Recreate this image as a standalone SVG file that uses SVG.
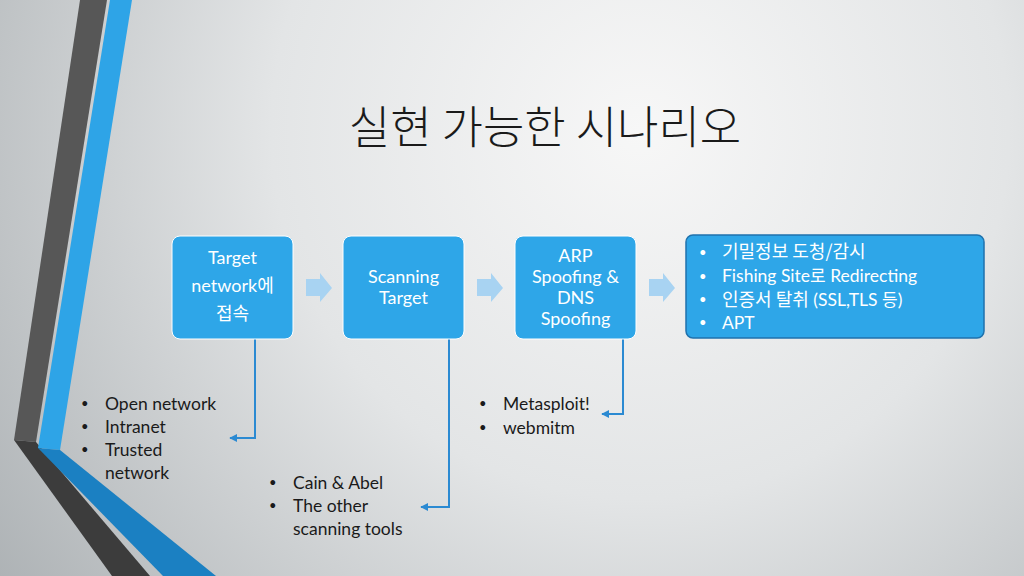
<svg xmlns="http://www.w3.org/2000/svg" width="1024" height="576" viewBox="0 0 1024 576">
  <defs>
    <radialGradient id="bg" cx="640" cy="130" r="820" gradientUnits="userSpaceOnUse">
      <stop offset="0" stop-color="#f7f7f7"/>
      <stop offset="0.45" stop-color="#e3e5e6"/>
      <stop offset="1" stop-color="#a9aeb1"/>
    </radialGradient>
    <marker id="ah" viewBox="0 0 10 10" refX="9" refY="5" markerWidth="4" markerHeight="4" orient="auto">
      <path d="M0,0 L10,5 L0,10 Z" fill="#2b8ad2"/>
    </marker>
    <style>
      .box { fill: #2ea6e8; stroke: #ffffff; stroke-width: 1; }
      .box4 { fill: #2ea6e8; stroke: #1f72ad; stroke-width: 1.5; }
      .btxt { font-family: "Lato", "Noto Sans CJK KR", sans-serif; font-size: 18px; fill: #ffffff; text-anchor: middle; }
      .ltxt { font-family: "Lato", "Noto Sans CJK KR", sans-serif; font-size: 17.5px; fill: #ffffff; }
      .kr { font-family: "Noto Sans CJK KR", sans-serif; font-size: 18px; }
      .kr2 { font-family: "Noto Sans CJK KR", sans-serif; font-size: 17px; }
      .dtxt { font-family: "Lato", "Noto Sans CJK KR", sans-serif; font-size: 17.5px; fill: #1a1a1a; }
      .bul { font-family: "Lato", sans-serif; font-size: 13px; }
      .arrow { fill: #a8d3f2; }
      .conn { fill: none; stroke: #2b8ad2; stroke-width: 2; marker-end: url(#ah); }
      .title { font-family: "Noto Sans CJK KR", sans-serif; font-weight: 300; font-size: 45px; fill: #1a1a1a; text-anchor: middle; }
    </style>
  </defs>

  <rect x="0" y="0" width="1024" height="576" fill="url(#bg)"/>

  <g id="decor">
    <polygon points="80,0 107,0 36,442 14,440" fill="#575757"/>
    <polygon points="14,440 36,442 150,576 112,576" fill="#3c3c3c"/>
    <polygon points="110,0 132,0 60,450 38,448" fill="#2ea4e7"/>
    <polygon points="38,448 60,450 216,576 163,576" fill="#1b80c2"/>
  </g>

  <text id="title" class="title" x="545" y="144">실현 가능한 시나리오</text>

  <g id="flow-arrows">
    <path class="arrow" d="M306,279 H320 V273 L332,288 L320,302 V296 H306 Z"/>
    <path class="arrow" d="M477,279 H491 V273 L503,288 L491,302 V296 H477 Z"/>
    <path class="arrow" d="M649,279 H663 V273 L675,288 L663,302 V296 H649 Z"/>
  </g>

  <g id="connectors">
    <path class="conn" d="M255,339 V438 H230"/>
    <path class="conn" d="M449,339 V507 H421"/>
    <path class="conn" d="M623,339 V414 H602"/>
  </g>

  <g id="node-target">
    <rect class="box" x="172" y="236" width="121" height="103" rx="8"/>
    <text class="btxt" x="232.5" y="264">Target</text>
    <text class="btxt" x="232.5" y="292">network<tspan class="kr">에</tspan></text>
    <text class="btxt" x="232.5" y="320"><tspan class="kr">접속</tspan></text>
  </g>

  <g id="node-scanning">
    <rect class="box" x="343" y="236" width="121" height="103" rx="8"/>
    <text class="btxt" x="403.5" y="283">Scanning</text>
    <text class="btxt" x="403.5" y="304">Target</text>
  </g>

  <g id="node-spoofing">
    <rect class="box" x="515" y="236" width="121" height="103" rx="8"/>
    <text class="btxt" x="575.5" y="262">ARP</text>
    <text class="btxt" x="575.5" y="283">Spoofing &amp;</text>
    <text class="btxt" x="575.5" y="304">DNS</text>
    <text class="btxt" x="575.5" y="325">Spoofing</text>
  </g>

  <g id="node-results">
    <rect class="box4" x="686" y="235" width="298" height="103" rx="7"/>
    <text class="ltxt bul" x="699" y="257">•</text>
    <text class="ltxt" x="722" y="258"><tspan class="kr">기밀정보 도청/감시</tspan></text>
    <text class="ltxt bul" x="699" y="281">•</text>
    <text class="ltxt" x="722" y="282">Fishing Site<tspan class="kr2">로</tspan> Redirecting</text>
    <text class="ltxt bul" x="699" y="304">•</text>
    <text class="ltxt" x="722" y="305.5"><tspan class="kr">인증서 탈취</tspan> (SSL,TLS <tspan class="kr2">등</tspan>)</text>
    <text class="ltxt bul" x="699" y="327">•</text>
    <text class="ltxt" x="722" y="328.5">APT</text>
  </g>

  <g id="list-network">
    <text class="dtxt bul" x="81" y="408">•</text>
    <text class="dtxt" x="105" y="410">Open network</text>
    <text class="dtxt bul" x="81" y="431">•</text>
    <text class="dtxt" x="105" y="433">Intranet</text>
    <text class="dtxt bul" x="81" y="454">•</text>
    <text class="dtxt" x="105" y="456">Trusted</text>
    <text class="dtxt" x="105" y="479">network</text>
  </g>

  <g id="list-tools">
    <text class="dtxt bul" x="269" y="487">•</text>
    <text class="dtxt" x="293" y="489">Cain &amp; Abel</text>
    <text class="dtxt bul" x="269" y="510">•</text>
    <text class="dtxt" x="293" y="512">The other</text>
    <text class="dtxt" x="293" y="535">scanning tools</text>
  </g>

  <g id="list-exploit">
    <text class="dtxt bul" x="479" y="408">•</text>
    <text class="dtxt" x="503" y="410">Metasploit!</text>
    <text class="dtxt bul" x="479" y="432">•</text>
    <text class="dtxt" x="503" y="434">webmitm</text>
  </g>
</svg>
